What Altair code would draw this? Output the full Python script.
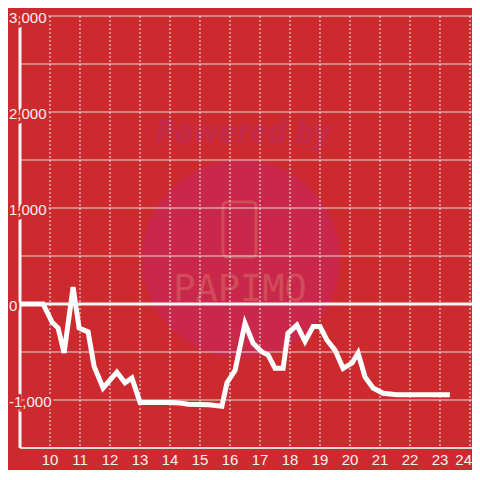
import altair as alt
import pandas as pd

# ---- data ----
hours = [9.0, 9.77, 10.07, 10.27, 10.47, 10.77, 10.97, 11.27, 11.47, 11.77,
         12.23, 12.5, 12.73, 13.0, 14.0, 14.3, 14.6, 15.3, 15.73, 15.9,
         16.17, 16.5, 16.77, 17.07, 17.27, 17.5, 17.77, 17.93, 18.23, 18.5,
         18.77, 19.0, 19.23, 19.5, 19.77, 20.07, 20.27, 20.5, 20.77, 21.1,
         21.57, 23.33]
values = [0, 0, -190, -250, -510, 175, -250, -290, -650, -875,
          -710, -820, -770, -1025, -1025, -1030, -1045, -1050, -1065, -820,
          -690, -200, -410, -500, -530, -670, -670, -305, -220, -390,
          -235, -235, -375, -480, -670, -615, -510, -760, -875, -930,
          -945, -945]
y_tick_values = [3000, 2000, 1000, 0, -1000]
y_tick_labels = ["3,000", "2,000", "1,000", "0", "-1,000"]
y_grid_values = [-1000, -500, 500, 1000, 1500, 2000, 2500, 3000]
x_tick_values = list(range(10, 25))

BG = "#cd2a2f"
LABEL = "#f2f2f2"
FONT = "Liberation Sans"

xs = alt.Scale(domain=[9, 24.0667], nice=False, zero=False)
ys = alt.Scale(domain=[-1500, 3000], nice=False, zero=False)


def X(field="x"):
    return alt.X(f"{field}:Q", scale=xs, axis=None)


def Y(field="y"):
    return alt.Y(f"{field}:Q", scale=ys, axis=None)


one = pd.DataFrame({"a": [0]})
line_df = pd.DataFrame({"x": hours, "y": values})
ylab_df = pd.DataFrame({"y": y_tick_values, "label": y_tick_labels})
hgrid_df = pd.DataFrame({"y": y_grid_values})
xtick_df = pd.DataFrame({"x": x_tick_values, "label": [str(v) for v in x_tick_values]})
last_tick = x_tick_values[-1]

# ---- watermark ----
circle = alt.Chart(one).mark_point(shape="circle", filled=True, size=39204,
                                   color="#c9284a", opacity=1).encode(
    x=alt.value(221), y=alt.value(243))
powered = alt.Chart(one).mark_text(text="Powered by", font="Open Sans", fontSize=32,
                                   fontWeight="bold", fontStyle="italic",
                                   color="#c52a4a", align="center",
                                   baseline="middle").encode(
    x=alt.value(223), y=alt.value(117))
phone = alt.Chart(one).mark_rect(cornerRadius=4, fillOpacity=0, stroke="#d24b5a",
                                 strokeWidth=3).encode(
    x=alt.value(203), x2=alt.value(236), y=alt.value(186), y2=alt.value(241))
papimo = alt.Chart(one).mark_text(text="PAPIMO", font="DejaVu Sans Mono", fontSize=37,
                                  color="#d24b5a", align="center",
                                  baseline="middle").encode(
    x=alt.value(220), y=alt.value(274))

# ---- grid / axes ----
hgrid = alt.Chart(hgrid_df).mark_rule(color="#dcdcdc", strokeWidth=1).encode(y=Y())
vgrid = alt.Chart(xtick_df).mark_rule(color="#ececec", strokeWidth=1,
                                      strokeDash=[2, 2]).encode(x=X())
bottom = alt.Chart(pd.DataFrame({"y": [-1500]})).mark_rule(
    color="#d8d8d8", strokeWidth=2).encode(y=Y())
zero = alt.Chart(pd.DataFrame({"y": [0]})).mark_rule(
    color="#f5f5f5", strokeWidth=3).encode(y=Y())
yline = alt.Chart(pd.DataFrame({"x": [9]})).mark_rule(
    color="#f5f5f5", strokeWidth=3).encode(x=X())

series = alt.Chart(line_df).mark_line(color="white", strokeWidth=5).encode(
    x=X(), y=Y(), order="x:Q")

ylab_bg = alt.Chart(ylab_df).mark_text(align="left", baseline="middle", dy=2,
                                       font=FONT, fontSize=15, color=BG,
                                       stroke=BG, strokeWidth=5).encode(
    x=alt.value(-11), y=Y(), text="label:N")
ylab = alt.Chart(ylab_df).mark_text(align="left", baseline="middle", dy=2,
                                    font=FONT, fontSize=15, color=LABEL).encode(
    x=alt.value(-11), y=Y(), text="label:N")
xlab = alt.Chart(xtick_df).transform_filter(
    alt.datum.x < last_tick).mark_text(align="center", baseline="middle",
                                      font=FONT, fontSize=15, color=LABEL).encode(
    x=X(), y=alt.value(444), text="label:N")
xlab_last = alt.Chart(xtick_df).transform_filter(
    alt.datum.x == last_tick).mark_text(align="right", baseline="middle", dx=2,
                                       font=FONT, fontSize=15, color=LABEL).encode(
    x=X(), y=alt.value(444), text="label:N")

chart = alt.layer(circle, powered, phone, papimo, hgrid, vgrid, bottom, zero,
                  yline, series, ylab_bg, ylab, xlab, xlab_last).properties(
    width=452, height=432,
    padding={"left": 12, "top": 8, "right": 0, "bottom": 22},
    autosize=alt.AutoSizeParams(type="none"),
    background=BG,
).configure_view(stroke=None, fill=BG)

chart.save("out.html", embed_options={"renderer": "svg", "actions": False})
